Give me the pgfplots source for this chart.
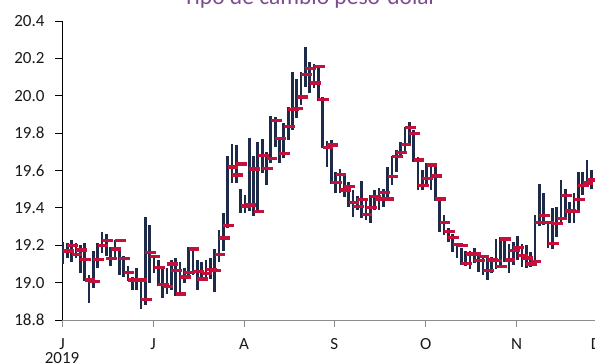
\documentclass[border=0pt]{standalone}
\usepackage{fontspec}
\setmainfont{Carlito}
\usepackage{pgfplots}
\usepackage{pgfplotstable}
\pgfplotsset{compat=1.18}

\definecolor{barnavy}{HTML}{1E2B48}
\definecolor{closered}{HTML}{C5103B}
\definecolor{titlepurple}{HTML}{7E4C93}
\definecolor{axisgray}{HTML}{8C8C8C}

\newcommand\tlfont{\fontsize{17bp}{14.5bp}\selectfont}

% daily high, low and close of the peso-dollar rate (trading days from June 2019)
\pgfplotstableread{
i high low close
0 19.22 19.10 19.17
1 19.21 19.13 19.20
2 19.23 19.11 19.15
3 19.21 19.13 19.175
4 19.20 19.05 19.125
5 19.21 19.01 19.015
6 19.04 18.89 19.005
7 19.17 18.97 19.125
8 19.21 19.08 19.20
9 19.27 19.16 19.225
10 19.26 19.14 19.13
11 19.19 19.09 19.18
12 19.23 19.13 19.225
13 19.19 19.04 19.13
14 19.14 19.03 19.055
15 19.09 19.01 19.015
16 19.03 18.96 19.015
17 19.08 18.96 19.015
18 19.01 18.86 18.91
19 19.35 18.88 19.16
20 19.31 19.00 19.14
21 19.13 19.05 19.08
22 19.12 18.98 18.99
23 19.09 18.92 18.98
24 19.08 18.94 19.10
25 19.12 18.96 19.065
26 19.13 18.93 18.94
27 19.11 18.93 19.03
28 19.08 19.00 19.055
29 19.19 19.02 19.18
30 19.19 19.04 19.06
31 19.12 18.96 19.02
32 19.11 19.02 19.05
33 19.12 19.01 19.07
34 19.13 19.02 19.065
35 19.18 18.95 19.15
36 19.28 19.11 19.24
37 19.37 19.17 19.305
38 19.675 19.29 19.62
39 19.743 19.532 19.577
40 19.738 19.532 19.634
41 19.50 19.375 19.41
42 19.47 19.37 19.416
43 19.776 19.385 19.607
44 19.678 19.357 19.38
45 19.755 19.38 19.68
46 19.769 19.585 19.61
47 19.70 19.522 19.663
48 19.892 19.638 19.867
49 19.888 19.728 19.77
50 19.781 19.642 19.692
51 19.852 19.665 19.835
52 19.942 19.763 19.927
53 20.129 19.817 19.931
54 20.088 19.879 19.992
55 20.129 19.95 20.113
56 20.263 20.049 20.145
57 20.18 20.013 20.067
58 20.17 20.04 20.156
59 20.165 19.97 19.979
60 19.995 19.719 19.724
61 19.758 19.621 19.737
62 19.763 19.53 19.535
63 19.594 19.478 19.578
64 19.606 19.478 19.496
65 19.576 19.46 19.514
66 19.54 19.407 19.428
67 19.496 19.353 19.407
68 19.464 19.389 19.446
69 19.546 19.344 19.364
70 19.451 19.335 19.401
71 19.469 19.321 19.46
72 19.496 19.389 19.448
73 19.505 19.389 19.483
74 19.501 19.407 19.448
75 19.617 19.442 19.567
76 19.678 19.523 19.674
77 19.71 19.594 19.695
78 19.754 19.674 19.738
79 19.835 19.701 19.829
80 19.861 19.745 19.797
81 19.817 19.645 19.656
82 19.674 19.496 19.519
83 19.60 19.496 19.558
84 19.638 19.522 19.629
85 19.62 19.496 19.571
86 19.629 19.437 19.448
87 19.442 19.269 19.321
88 19.362 19.255 19.273
89 19.291 19.215 19.241
90 19.26 19.166 19.205
91 19.21 19.13 19.198
92 19.185 19.095 19.102
93 19.17 19.09 19.152
94 19.17 19.075 19.152
95 19.185 19.105 19.118
96 19.145 19.059 19.139
97 19.148 19.04 19.066
98 19.145 19.016 19.121
99 19.139 19.05 19.118
100 19.232 19.075 19.086
101 19.245 19.086 19.234
102 19.243 19.112 19.121
103 19.205 19.05 19.171
104 19.22 19.095 19.187
105 19.25 19.121 19.146
106 19.207 19.086 19.132
107 19.202 19.077 19.10
108 19.166 19.086 19.112
109 19.362 19.095 19.321
110 19.528 19.303 19.358
111 19.478 19.308 19.321
112 19.32 19.184 19.209
113 19.40 19.178 19.316
114 19.407 19.246 19.344
115 19.549 19.317 19.466
116 19.50 19.344 19.383
117 19.433 19.317 19.38
118 19.482 19.317 19.444
119 19.594 19.389 19.521
120 19.59 19.469 19.532
121 19.656 19.531 19.553
122 19.60 19.50 19.55
}\hlc

\begin{document}
\begin{tikzpicture}
\begin{axis}[
  scale only axis,
  width=542.25bp, height=299bp,
  xmin=-0.23, xmax=125,
  ymin=18.8, ymax=20.4,
  axis x line*=bottom, axis y line*=left,
  x axis line style={draw=axisgray, line width=0.9bp},
  y axis line style={draw=black, line width=0.9bp},
  tick align=outside, major tick length=7bp,
  xtick={-0.23,20.79,41.8,62.66,83.76,104.78,123.1},
  xticklabels={{J\\2019},J,A,S,O,N,D},
  xtick style={draw=axisgray, line width=0.9bp},
  ytick={18.8,19,19.2,19.4,19.6,19.8,20,20.2,20.4},
  ytick style={draw=black, line width=0.9bp},
  tick label style={font=\tlfont, text=black!90},
  xticklabel style={align=center, yshift=-8bp},
  yticklabel style={xshift=-7bp,
    /pgf/number format/fixed,
    /pgf/number format/fixed zerofill,
    /pgf/number format/precision=1,
    /pgf/number format/assume math mode=true},
  title={Tipo de cambio peso-dolar},
  title style={at={(axis description cs:0.4574,1.0368)}, anchor=base,
    font=\fontsize{23.5bp}{28bp}\selectfont, text=titlepurple, inner sep=0pt},
]
% high-low range of each day
\addplot[forget plot, draw=none, mark=none,
  error bars/.cd, y dir=plus, y explicit, error mark=none,
  error bar style={draw=barnavy, line width=2.7bp}]
  table[x=i, y=low, y error expr=\thisrow{high}-\thisrow{low}] {\hlc};
% closing rate tick
\addplot[forget plot, draw=none, mark=none,
  error bars/.cd, x dir=plus, x fixed=2.47, error mark=none,
  error bar style={draw=closered, line width=3.5bp}]
  table[x=i, y=close] {\hlc};
\coordinate (O) at (rel axis cs:0,0);
\end{axis}
\pgfresetboundingbox
\path[use as bounding box] (O) ++(-62bp,-44bp) rectangle ++(595bp,364bp);
\end{tikzpicture}
\end{document}
